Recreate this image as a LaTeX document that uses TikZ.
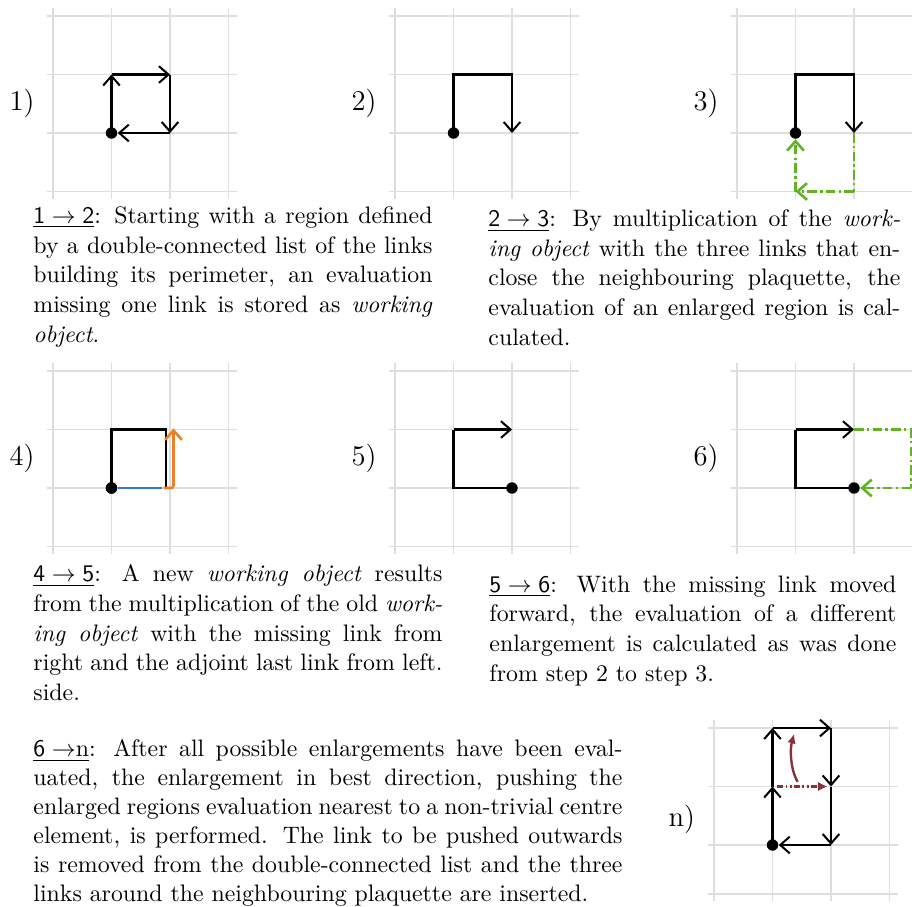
\documentclass[tikz,border=0pt]{standalone}
\usepackage{fontspec}
\usetikzlibrary{arrows.meta}

\definecolor{linkgreen}{RGB}{98,178,36}
\definecolor{linkorange}{RGB}{236,128,38}
\definecolor{linkblue}{RGB}{48,120,214}
\definecolor{linkred}{RGB}{138,48,56}

% lattice of 4x4 lines, last row at #1
\newcommand{\latgrid}[1][3]{%
  \foreach \k in {0,1,2,3}
    \draw[gridline] (\k,-0.14) -- (\k,#1+0.12);
  \foreach \k in {0,1,2,#1}
    \draw[gridline] (-0.11,\k) -- (3.14,\k);
}

\begin{document}
\begin{tikzpicture}[x=0.42pt, y=-0.42pt]
  % Styles
  \tikzstyle{gridline} = [draw=black!13, line width=0.65pt]
  \tikzstyle{link} = [draw=black, line width=0.85pt]
  \tikzstyle{linkarrow} = [link, -{Straight Barb[length=4pt,width=7pt]}]
  \tikzstyle{newlink} = [draw=linkgreen, line width=1.1pt, dash pattern=on 4pt off 1.4pt on 1pt off 1.4pt]
  \tikzstyle{newarrow} = [newlink, -{Straight Barb[length=4pt,width=7pt]}]
  \tikzstyle{site} = [circle, fill=black, inner sep=0pt, minimum size=4.8pt]
  \tikzstyle{panellabel} = [font=\fontsize{12}{14}\selectfont]
  \tikzstyle{caption} = [anchor=north west, inner sep=0pt, align=justify, font=\fontsize{10}{12.5}\selectfont]
  \tikzstyle{panel} = [x=24.57pt, y=-24.57pt]

  \useasboundingbox (0,0) rectangle (912,906);

  % Panel 1
  \begin{scope}[shift={(53,16)}, panel]
    \latgrid
    \node[panellabel] (lab1) at (-0.53,1.5) {1)};
    \node[site] (s1) at (1,2) {};
    \coordinate (a1) at (1,1);
    \coordinate (b1) at (2,1);
    \coordinate (c1) at (2,2);
    \draw[linkarrow] (s1.center) -- (a1);
    \draw[linkarrow] (a1) -- (b1);
    \draw[linkarrow] (b1) -- (c1);
    \draw[linkarrow] (c1) -- (s1);
  \end{scope}

  % Panel 2
  \begin{scope}[shift={(395,16)}, panel]
    \latgrid
    \node[panellabel] (lab2) at (-0.53,1.5) {2)};
    \node[site] (s2) at (1,2) {};
    \coordinate (a2) at (1,1);
    \coordinate (b2) at (2,1);
    \coordinate (c2) at (2,2);
    \draw[linkarrow] (s2.center) -- (a2) -- (b2) -- (c2);
  \end{scope}

  % Panel 3
  \begin{scope}[shift={(737,16)}, panel]
    \latgrid
    \node[panellabel] (lab3) at (-0.53,1.5) {3)};
    \node[site] (s3) at (1,2) {};
    \coordinate (a3) at (1,1);
    \coordinate (b3) at (2,1);
    \coordinate (c3) at (2,2);
    \coordinate (d3) at (2,3);
    \coordinate (e3) at (1,3);
    \draw[newlink] (c3) -- (d3);
    \draw[newarrow] (d3) -- (e3);
    \draw[newarrow] (e3) -- (s3);
    \draw[linkarrow] (s3.center) -- (a3) -- (b3) -- (c3);
  \end{scope}

  % Panel 4
  \begin{scope}[shift={(53,371)}, panel]
    \latgrid
    \node[panellabel] (lab4) at (-0.53,1.5) {4)};
    \node[site] (s4) at (1,2) {};
    \coordinate (a4) at (1,1);
    \coordinate (b4) at (1.93,1);
    \coordinate (c4) at (1.93,2);
    \coordinate (m4) at (1.87,2);
    \coordinate (o4) at (1.89,2);
    \coordinate (p4) at (2.06,2);
    \coordinate (q4) at (2.06,0.98);
    \draw[link] (s4.center) -- (a4) -- (b4) -- (c4);
    \draw[draw=linkblue, line width=1.1pt] (s4) -- (m4);
    \draw[draw=linkorange, line width=1.1pt, rounded corners=1pt, -{Straight Barb[length=4pt,width=7pt]}] (o4) -- (p4) -- (q4);
    \node[site] at (s4) {};
  \end{scope}

  % Panel 5
  \begin{scope}[shift={(395,371)}, panel]
    \latgrid
    \node[panellabel] (lab5) at (-0.53,1.5) {5)};
    \node[site] (s5) at (2,2) {};
    \coordinate (a5) at (1,1);
    \coordinate (b5) at (2,1);
    \coordinate (c5) at (1,2);
    \draw[linkarrow] (a5) -- (b5);
    \draw[link] (a5) -- (c5) -- (s5.center);
  \end{scope}

  % Panel 6
  \begin{scope}[shift={(737,371)}, panel]
    \latgrid
    \node[panellabel] (lab6) at (-0.53,1.5) {6)};
    \node[site] (s6) at (2,2) {};
    \coordinate (a6) at (1,1);
    \coordinate (b6) at (2,1);
    \coordinate (c6) at (1,2);
    \coordinate (d6) at (2.975,1);
    \coordinate (e6) at (2.975,2);
    \draw[newlink] (b6) -- (d6) -- (e6);
    \draw[newarrow] (e6) -- (s6);
    \draw[linkarrow] (a6) -- (b6);
    \draw[link] (a6) -- (c6) -- (s6.center);
  \end{scope}

  % Panel n
  \begin{scope}[shift={(714,728)}, panel]
    \latgrid[2.84]
    \node[panellabel] (labn) at (-0.55,1.57) {n)};
    \node[site] (sn) at (1,2) {};
    \coordinate (an) at (1,1);
    \coordinate (bn) at (1,0);
    \coordinate (cn) at (2,0);
    \coordinate (dn) at (2,1);
    \coordinate (en) at (2,2);
    \coordinate (pn) at (1.08,1);
    \coordinate (qn) at (1.94,1);
    \coordinate (un) at (1.43,0.92);
    \coordinate (vn) at (1.37,0.1);
    \draw[linkarrow] (sn.center) -- (an);
    \draw[linkarrow] (an) -- (bn);
    \draw[linkarrow] (bn) -- (cn);
    \draw[linkarrow] (cn) -- (dn);
    \draw[linkarrow] (dn) -- (en);
    \draw[linkarrow] (en) -- (sn);
    \draw[draw=linkred, line width=1pt, dash pattern=on 2.5pt off 1pt on 0.8pt off 1pt on 0.8pt off 1pt, -{Latex[length=4pt,width=4pt]}] (pn) -- (qn);
    \draw[draw=linkred, line width=1pt, -{Latex[length=4pt,width=3.6pt]}] (un) .. controls (1.3,0.7) and (1.3,0.35) .. (vn);
  \end{scope}

  % Captions
  \node[caption, text width=167.6pt] (cap12) at (33,206) {\underline{$\textsf{1}\to\textsf{2}$}: Starting with a region defined\linebreak
    by a double-connected list of the links\linebreak
    building its perimeter, an evaluation\linebreak
    missing one link is stored as \textit{working}\linebreak
    \textit{object}.};
  \node[caption, text width=173pt] (cap23) at (488,209) {\underline{$\textsf{2}\to\textsf{3}$}: By multiplication of the \textit{work-}\linebreak
    \textit{ing object} with the three links that en-\linebreak
    close the neighbouring plaquette, the\linebreak
    evaluation of an enlarged region is cal-\linebreak
    culated.};
  \node[caption, text width=171.8pt] (cap45) at (33,564) {\underline{$\textsf{4}\to\textsf{5}$}: A new \textit{working object} results\linebreak
    from the multiplication of the old \textit{work-}\linebreak
    \textit{ing object} with the missing link from\linebreak
    right and the adjoint last link from left.\linebreak
    side.};
  \node[caption, text width=170.9pt] (cap56) at (489,575) {\underline{$\textsf{5}\to\textsf{6}$}: With the missing link moved\linebreak
    forward, the evaluation of a different\linebreak
    enlargement is calculated as was done\linebreak
    from step 2 to step 3.};
  \node[caption, text width=247.4pt, font=\fontsize{10}{12.2}\selectfont] (cap6n) at (33,739) {\underline{$\textsf{6}\to$n}: After all possible enlargements have been eval-\linebreak
    uated, the enlargement in best direction, pushing the\linebreak
    enlarged regions evaluation nearest to a non-trivial centre\linebreak
    element, is performed. The link to be pushed outwards\linebreak
    is removed from the double-connected list and the three\linebreak
    links around the neighbouring plaquette are inserted.};
\end{tikzpicture}
\end{document}
